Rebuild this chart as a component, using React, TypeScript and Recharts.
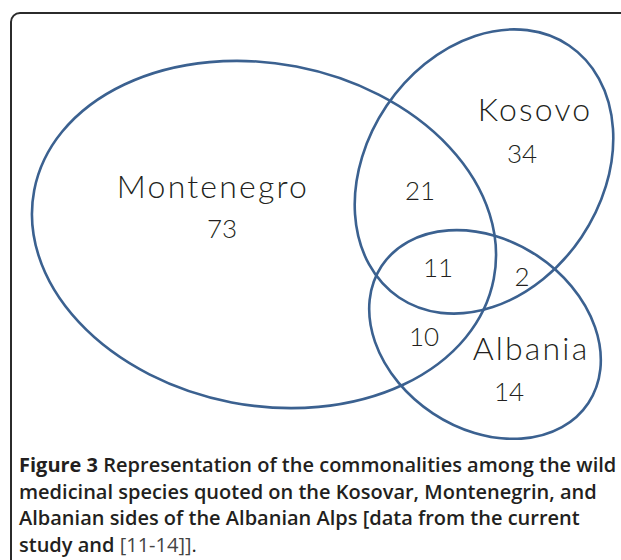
import React from 'react';
import { ScatterChart, Scatter, XAxis, YAxis } from 'recharts';

// Venn sets: centre, semi-axes and tilt (pixel units of the plot)
const setNames = ['Montenegro', 'Kosovo', 'Albania'];
const setCx = [264, 484, 485];
const setCy = [234.5, 171.5, 334.5];
const setRx = [234, 152, 124];
const setRy = [171, 117.5, 94.5];
const setTilt = [10.9, -56, 33.5];

// set labels
const nameX = [213, 535, 531];
const nameY = [198, 121, 360];

// region counts
const regionCounts = ['73', '34', '21', '11', '2', '10', '14'];
const countX = [222, 522, 420, 438, 522, 424, 509];
const countY = [238, 163, 200, 277, 286, 346, 401];

const W = 621;
const H = 440;
const STROKE = '#3b6190';
const INK = '#231f20';

const ellipseData = setNames.map((name, i) => ({
  name,
  x: setCx[i],
  y: setCy[i],
  rx: setRx[i],
  ry: setRy[i],
  tilt: setTilt[i],
}));

const nameData = setNames.map((name, i) => ({ x: nameX[i], y: nameY[i], text: name, size: 32, spacing: 2.2 }));
const countData = regionCounts.map((c, i) => ({ x: countX[i], y: countY[i], text: c, size: 26, spacing: 0 }));

const EllipseShape = (props: any) => {
  const { cx, cy, payload } = props;
  return (
    <ellipse
      cx={cx}
      cy={cy}
      rx={payload.rx}
      ry={payload.ry}
      transform={`rotate(${payload.tilt} ${cx} ${cy})`}
      fill="none"
      stroke={STROKE}
      strokeWidth={2.6}
    />
  );
};

const TextShape = (props: any) => {
  const { cx, cy, payload } = props;
  return (
    <text
      x={cx}
      y={cy}
      textAnchor="middle"
      fontFamily="'Lato', 'Open Sans', sans-serif"
      fontWeight={300}
      fontSize={payload.size}
      letterSpacing={payload.spacing}
      fill={INK}
    >
      {payload.text}
    </text>
  );
};

export default function App() {
  return (
    <div style={{ position: 'absolute', left: 0, top: 0, width: 621, height: 560, overflow: 'hidden', background: '#fff' }}>
      <div
        style={{
          position: 'absolute',
          left: 10,
          top: 12,
          width: 700,
          height: 700,
          border: '2px solid #2b2b2b',
          borderRadius: 10,
        }}
      />
      <div style={{ position: 'absolute', left: 0, top: 0 }}>
        <ScatterChart width={W} height={H} margin={{ top: 0, right: 0, bottom: 0, left: 0 }}>
          <XAxis type="number" dataKey="x" domain={[0, W]} hide />
          <YAxis type="number" dataKey="y" domain={[0, H]} reversed hide />
          <Scatter data={ellipseData} shape={<EllipseShape />} isAnimationActive={false} />
          <Scatter data={nameData} shape={<TextShape />} isAnimationActive={false} />
          <Scatter data={countData} shape={<TextShape />} isAnimationActive={false} />
        </ScatterChart>
      </div>
      <div
        style={{
          position: 'absolute',
          left: 19,
          top: 452,
          fontFamily: "'Open Sans', sans-serif",
          fontSize: 20,
          lineHeight: '26.5px',
          color: INK,
          fontWeight: 600,
          whiteSpace: 'nowrap',
        }}
      >
        <span style={{ fontWeight: 700 }}>Figure 3</span> Representation of the commonalities among the wild
        <br />
        medicinal species quoted on the Kosovar, Montenegrin, and
        <br />
        Albanian sides of the Albanian Alps [data from the current
        <br />
        study and <span style={{ fontWeight: 400, color: '#444' }}>[11-14]]</span>
        <span style={{ fontWeight: 400 }}>.</span>
      </div>
    </div>
  );
}
